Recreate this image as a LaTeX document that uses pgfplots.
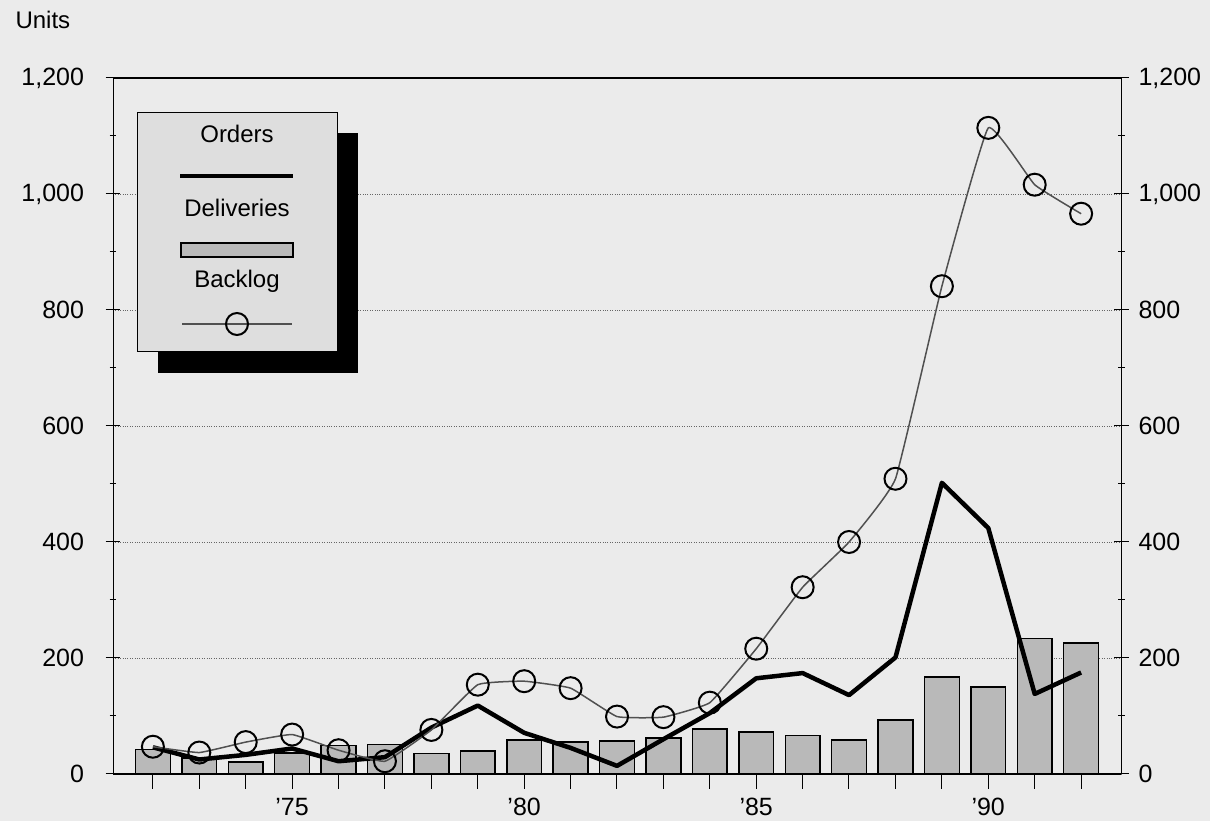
\documentclass[border=0pt]{standalone}
\usepackage{fontspec}
\setmainfont{Liberation Sans}
\usepackage{pgfplots}
\usepackage{pgfplotstable}
\pgfplotsset{compat=1.18}
\definecolor{bg}{RGB}{235,235,235}
\definecolor{barfill}{RGB}{185,185,185}
\definecolor{legfill}{RGB}{222,222,222}
\definecolor{backlogline}{RGB}{80,80,80}

\pgfplotstableread{
year deliv orders backlog
1972 42 46 47
1973 28 25 37
1974 21 33 55
1975 36 44 68
1976 49 22 41
1977 51 29 22
1978 35 80 76
1979 40 118 154
1980 59 71 160
1981 55 45 148
1982 57 14 99
1983 62 60 98
1984 78 105 123
1985 72 165 216
1986 66 174 322
1987 59 136 400
1988 93 201 509
1989 167 502 841
1990 150 424 1114
1991 234 138 1016
1992 226 175 966
}\datatable

\newcommand\yearlabel[1]{%
  \pgfmathtruncatemacro\yr{round(#1)}%
  \pgfmathtruncatemacro\md{mod(\yr,5)}%
  \pgfmathtruncatemacro\yy{mod(\yr,100)}%
  \ifnum\md=0 ’\yy\fi}

\begin{document}
\begin{tikzpicture}[x=1pt,y=1pt]
\useasboundingbox (0,0) rectangle (1210,821);
\fill[bg] (0,0) rectangle (1210,821);
\begin{axis}[
  at={(113pt,47pt)}, anchor=south west,
  scale only axis, width=1008pt, height=696pt,
  xmin=1971.14, xmax=1992.86, ymin=0, ymax=1200,
  separate axis lines,
  x axis line style={line width=2pt},
  y axis line style={line width=1pt},
  xtick={1972,...,1992},
  xticklabel={\yearlabel{\tick}},
  xtick pos=bottom,
  xtick align=outside,
  ytick={0,200,...,1200},
  minor ytick={100,300,...,1100},
  ytick pos=both,
  ytick align=center,
  major tick length=15pt,
  minor tick length=7pt,
  every tick/.style={black, line width=1pt},
  ymajorgrids,
  major grid style={dotted, black!60, line width=0.8pt},
  yticklabel={\pgfmathprintnumber[assume math mode=true,1000 sep={,}]{\tick}},
  tick label style={font=\fontsize{25}{30}\selectfont},
  yticklabel style={anchor=east, xshift=-18pt},
  xticklabel style={yshift=-6pt},
]
\addplot[ybar, bar width=0.75, bar shift=0pt, fill=barfill, draw=black, line width=1.5pt] table[x=year, y=deliv] {\datatable};
\addplot[black, line width=4.5pt, line join=round] table[x=year, y=orders] {\datatable};
\addplot[backlogline, line width=1.5pt, smooth, tension=0.2, mark=o, mark size=11pt, mark options={black, line width=2pt, fill=none}] table[x=year, y=backlog] {\datatable};
\end{axis}
\begin{axis}[
  at={(113pt,47pt)}, anchor=south west,
  scale only axis, width=1008pt, height=696pt,
  xmin=1971.14, xmax=1992.86, ymin=0, ymax=1200,
  hide x axis,
  axis y line*=right,
  y axis line style={draw=none},
  ytick={0,200,...,1200},
  ytick style={draw=none},
  yticklabel={\pgfmathprintnumber[assume math mode=true,1000 sep={,}]{\tick}},
  tick label style={font=\fontsize{25}{30}\selectfont},
  yticklabel style={anchor=west, xshift=14pt},
]
\addplot[draw=none] coordinates {(1980,0)};
\end{axis}
% Units label
\node[anchor=base west, font=\fontsize{24}{28}\selectfont] at (12,792) {Units};
% Legend
\fill[black] (158,448) rectangle (358,688);
\filldraw[fill=legfill, draw=black, line width=1pt] (137,469) rectangle (337,708);
\node[anchor=base, font=\fontsize{24}{28}\selectfont] at (237,678) {Orders};
\draw[black, line width=4pt] (180,645) -- (293,645);
\node[anchor=base, font=\fontsize{24}{28}\selectfont] at (237,604) {Deliveries};
\filldraw[fill=barfill, draw=black, line width=1.5pt] (181,564) rectangle (293,578);
\node[anchor=base, font=\fontsize{24}{28}\selectfont] at (237,533) {Backlog};
\draw[backlogline, line width=1.5pt] (182,497) -- (292,497);
\draw[black, line width=2pt] (237,497) circle (11);
\end{tikzpicture}
\end{document}
